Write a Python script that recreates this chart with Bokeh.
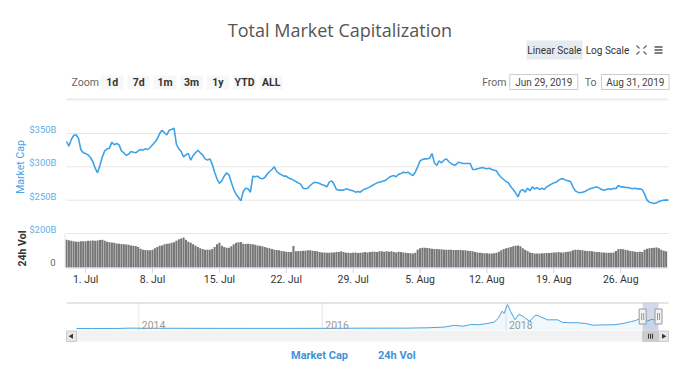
import pandas as pd
from bokeh.plotting import figure
from bokeh.models import Range1d, Legend, LegendItem
from bokeh.core.properties import value
from bokeh.embed import file_html
from bokeh.resources import INLINE
import math

# ---------------- data ----------------
TITLE = "Total Market Capitalization"
cap_start = "2019-06-29 00:00"
cap_step = "6h"
cap_values = [
    338, 331, 341, 347, 348, 343, 326, 321, 320, 318, 314, 308,
    298, 291, 302, 315, 324, 327, 328, 337, 333, 335, 333, 324,
    321, 317, 319, 323, 322, 321, 324, 326, 325, 327, 326, 329,
    333, 337, 342, 350, 355, 351, 348, 355, 356, 358, 334, 327,
    323, 315, 318, 320, 310, 317, 321, 325, 321, 318, 312, 310,
    312, 304, 292, 282, 275, 279, 286, 291, 288, 277, 266, 259,
    254, 249, 263, 268, 267, 262, 286, 285, 286, 283, 282, 284,
    289, 293, 296, 300, 293, 290, 288, 286, 286, 283, 282, 280,
    278, 276, 274, 268, 267, 268, 272, 275, 277, 276, 275, 273,
    272, 270, 277, 279, 274, 266, 265, 265, 265, 267, 266, 265,
    264, 262, 263, 262, 265, 267, 268, 270, 272, 274, 276, 277,
    278, 279, 281, 284, 286, 287, 285, 289, 290, 292, 291, 292,
    289, 287, 292, 300, 309, 311, 312, 312, 313, 320, 306, 302,
    309, 306, 310, 312, 308, 305, 303, 303, 307, 306, 305, 305,
    305, 305, 296, 296, 297, 298, 299, 298, 297, 298, 296, 295,
    294, 288, 284, 281, 278, 276, 270, 266, 261, 255, 264, 266,
    262, 268, 264, 270, 267, 269, 266, 268, 266, 270, 272, 274,
    276, 277, 280, 282, 282, 280, 279, 278, 270, 264, 262, 261,
    262, 263, 265, 267, 268, 269, 270, 268, 266, 265, 266, 267,
    266, 268, 267, 272, 270, 270, 269, 269, 268, 267, 268, 267,
    267, 266, 259, 250, 247, 246, 245, 246, 248, 249, 250, 250,
    250,
]
vol_values = [
    98, 96, 94, 93, 91, 91, 93, 93, 93, 94, 94, 95,
    94, 95, 97, 98, 94, 91, 89, 88, 87, 85, 84, 83,
    82, 81, 80, 78, 77, 76, 72, 66, 63, 62, 61, 61,
    63, 68, 72, 77, 78, 82, 84, 85, 87, 89, 94, 100,
    102, 106, 98, 91, 87, 82, 77, 72, 68, 65, 63, 63,
    63, 65, 72, 82, 87, 77, 72, 70, 70, 75, 82, 87,
    89, 90, 84, 83, 84, 83, 82, 80, 78, 77, 75, 72,
    70, 68, 65, 63, 62, 61, 58, 57, 56, 55, 55, 76,
    57, 58, 58, 59, 59, 61, 61, 59, 58, 57, 55, 53,
    53, 52, 52, 53, 53, 55, 55, 57, 55, 52, 52, 51,
    52, 53, 51, 52, 53, 55, 53, 55, 56, 56, 55, 57,
    57, 56, 57, 56, 57, 55, 53, 56, 55, 53, 52, 51,
    50, 49, 52, 63, 68, 70, 70, 69, 68, 66, 65, 65,
    64, 64, 63, 63, 63, 63, 62, 62, 62, 62, 61, 61,
    59, 58, 57, 55, 53, 52, 51, 50, 50, 49, 49, 50,
    52, 56, 61, 65, 68, 70, 72, 75, 77, 78, 75, 68,
    63, 58, 53, 51, 49, 49, 49, 50, 50, 51, 51, 52,
    53, 53, 55, 53, 53, 55, 56, 57, 61, 63, 63, 62,
    61, 59, 58, 58, 57, 56, 55, 55, 53, 53, 52, 52,
    52, 53, 58, 64, 65, 64, 63, 61, 58, 57, 56, 55,
    56, 55, 63, 66, 68, 69, 70, 71, 68, 63, 59, 57,
]
view_start = "2019-06-29"
view_end = "2019-08-31"
cap_ticks = [200, 250, 300, 350]
cap_tick_labels = ["$200B", "$250B", "$300B", "$350B"]
vol_ticks = [0]
vol_tick_labels = ["0"]
x_tick_dates = ["2019-07-01", "2019-07-08", "2019-07-15", "2019-07-22", "2019-07-29",
                "2019-08-05", "2019-08-12", "2019-08-19", "2019-08-26"]
x_tick_labels = ["1. Jul", "8. Jul", "15. Jul", "22. Jul", "29. Jul",
                 "5. Aug", "12. Aug", "19. Aug", "26. Aug"]
nav_dates = [
    "2013-04-28", "2013-07-01", "2013-10-01", "2013-12-01", "2014-01-01", "2014-03-01",
    "2014-06-01", "2014-09-01", "2014-12-01", "2015-03-01", "2015-06-01", "2015-09-01",
    "2015-12-01", "2016-03-01", "2016-06-01", "2016-09-01", "2016-12-01", "2017-01-01",
    "2017-03-01", "2017-05-01", "2017-06-10", "2017-07-15", "2017-08-15", "2017-09-15",
    "2017-10-15", "2017-11-15", "2017-12-01", "2017-12-17", "2017-12-24", "2018-01-07",
    "2018-01-20", "2018-02-06", "2018-02-20", "2018-03-05", "2018-03-20", "2018-04-06",
    "2018-04-25", "2018-05-05", "2018-05-25", "2018-06-15", "2018-07-25", "2018-08-15",
    "2018-09-15", "2018-10-15", "2018-11-15", "2018-12-15", "2019-01-15", "2019-02-15",
    "2019-03-15", "2019-04-15", "2019-05-15", "2019-05-30", "2019-06-26", "2019-07-10",
    "2019-07-17", "2019-08-06", "2019-08-31",
]
nav_values = [
    1.6, 1.0, 1.6, 13, 10, 8,
    8, 6, 5, 4, 4, 4,
    6, 7, 12, 12, 13, 18,
    25, 50, 110, 80, 140, 130,
    170, 220, 350, 600, 520, 830,
    580, 300, 480, 450, 350, 250,
    440, 460, 380, 300, 300, 210,
    200, 200, 170, 110, 125, 125,
    135, 180, 240, 270, 370, 330,
    260, 320, 250,
]
nav_year_ticks = ["2014-01-01", "2016-01-01", "2018-01-01"]
nav_year_labels = ["2014", "2016", "2018"]
zoom_buttons = ["1d", "7d", "1m", "3m", "1y", "YTD", "ALL"]
range_from = "Jun 29, 2019"
range_to = "Aug 31, 2019"
legend_labels = ["Market Cap", "24h Vol"]

# ---------------- helpers / styles ----------------
def ms(s):
    return pd.Timestamp(s).value / 1e6

FONT = value("Roboto")
TFONT = value("Open Sans")
BLUE = "#3fa2e6"
W, H = 690, 369
PX0, PY0 = 0, 0                     # page offset of the canvas (page renders with no margin)
PX1, PY1 = PX0 + W, PY0 + H

# layout in page pixels
MX0, MX1 = 66, 668                  # plot area left / right
CAP_Y200, CAP_PX = 233, 1.5         # $200B gridline row, $B per pixel
VOL_Y0, VOL_TOP, VOL_MAXV = 267, 233, 120
NAV_X0, NAV_X1 = 76, 658
NAV_TOP, NAV_BOT, SCR_BOT = 302, 330, 341
NAV_LO, NAV_HI = -69.0, 899.0

cap_x = [d.value / 1e6 for d in pd.date_range(cap_start, periods=len(cap_values), freq=cap_step)]
vol_x = [d.value / 1e6 for d in pd.date_range(cap_start, periods=len(vol_values), freq=cap_step)]
t0, t1 = ms(view_start), ms(view_end)
tpx = (t1 - t0) / (MX1 - MX0)
n0, n1 = ms(nav_dates[0]), ms(nav_dates[-1])
npx = (n1 - n0) / (NAV_X1 - NAV_X0)
vpx = VOL_MAXV / (VOL_Y0 - VOL_TOP)
nper = (NAV_HI - NAV_LO) / (NAV_BOT - NAV_TOP)

p = figure(width=W, height=H, title=None,
           x_range=Range1d(PX0, PX1), y_range=Range1d(PY1, PY0),
           x_axis_location=None, y_axis_location=None,
           min_border_left=0, min_border_right=0, min_border_top=0, min_border_bottom=0,
           output_backend="svg", toolbar_location=None)
p.outline_line_color = None
p.grid.visible = False
p.background_fill_color = "white"
p.border_fill_color = "white"
p.extra_x_ranges = {
    "t": Range1d(t0 - (MX0 - PX0) * tpx, t1 + (PX1 - MX1) * tpx),
    "n": Range1d(n0 - (NAV_X0 - PX0) * npx, n1 + (PX1 - NAV_X1) * npx),
}
p.extra_y_ranges = {
    "cap": Range1d(200 - (PY1 - CAP_Y200) * CAP_PX, 200 + (CAP_Y200 - PY0) * CAP_PX),
    "vol": Range1d(-(PY1 - VOL_Y0) * vpx, (VOL_Y0 - PY0) * vpx),
    "nav": Range1d(NAV_LO - (PY1 - NAV_BOT) * nper, NAV_HI + (NAV_TOP - PY0) * nper),
}

# ---------------- header ----------------
p.text(x=[339.5], y=[29], text=[TITLE], text_font=TFONT, text_font_size="18px",
       text_color="#555555", text_align="center", text_baseline="alphabetic")
p.quad(left=[526], right=[582], top=[40], bottom=[59], fill_color="#e6ebf2", line_color=None)
p.text(x=[554, 607], y=[49.5, 49.5], text=["Linear Scale", "Log Scale"], text_font=FONT,
       text_font_size="10px", text_color="#333333", text_align="center", text_baseline="middle")
p.segment(x0=[636, 646, 636, 646], y0=[45, 45, 54, 54], x1=[639, 643, 639, 643], y1=[48, 48, 51, 51],
          line_color="#666666", line_width=1.3)
p.segment(x0=[654, 654, 654], x1=[662, 662, 662], y0=[46.5, 49.5, 52.5], y1=[46.5, 49.5, 52.5],
          line_color="#555555", line_width=1.6)
p.text(x=[84.7], y=[81.5], text=["Zoom"], text_font=FONT, text_font_size="10.5px",
       text_color="#666666", text_align="center", text_baseline="middle")
bl = [100.3, 127, 153, 180, 206.3, 232.7, 259.3]
br = [123, 149.3, 176, 202.3, 228.7, 255.3, 282]
p.quad(left=bl, right=br, top=[75] * 7, bottom=[89] * 7, fill_color="#f7f7f7", line_color=None)
p.text(x=[(a + b) / 2 for a, b in zip(bl, br)], y=[81.5] * 7, text=zoom_buttons, text_font=FONT,
       text_font_size="10.5px", text_font_style="bold", text_color="#333333",
       text_align="center", text_baseline="middle")
p.text(x=[493.8, 590], y=[81.5, 81.5], text=["From", "To"], text_font=FONT, text_font_size="10.5px",
       text_color="#666666", text_align="center", text_baseline="middle")
p.quad(left=[509.3, 601], right=[577.3, 668.5], top=[74, 74], bottom=[89, 89],
       fill_color="white", line_color="#cccccc", line_width=1)
p.text(x=[543.3, 634.8], y=[81.5, 81.5], text=[range_from, range_to], text_font=FONT,
       text_font_size="10px", text_color="#444444", text_align="center", text_baseline="middle")
p.quad(left=[MX0], right=[MX1], top=[97.7], bottom=[100], fill_color="#eeeeee", line_color=None)

# ---------------- main pane (market cap) ----------------
p.segment(x0=[t0] * len(cap_ticks), x1=[t1] * len(cap_ticks), y0=cap_ticks, y1=cap_ticks,
          line_color="#e6e6e6", line_width=1, x_range_name="t", y_range_name="cap")
p.text(x=[t0] * len(cap_ticks), y=cap_ticks, text=cap_tick_labels, x_offset=-10, y_offset=-4,
       text_font=FONT, text_font_size="9.5px", text_color="#66afe9",
       text_align="right", text_baseline="middle", x_range_name="t", y_range_name="cap")
p.line(cap_x, cap_values, line_color=BLUE, line_width=1.6, x_range_name="t", y_range_name="cap")
p.text(x=[20], y=[166.5], text=["Market Cap"], angle=math.pi / 2, text_font=FONT,
       text_font_size="10.5px", text_color="#4aa3e3", text_align="center", text_baseline="middle")

# ---------------- volume pane ----------------
p.vbar(x=vol_x, top=vol_values, bottom=0, width=5.2 * 3600 * 1000, fill_color="#777777",
       line_color=None, x_range_name="t", y_range_name="vol")
p.segment(x0=[t0 - 1.5 * tpx], x1=[t0 - 1.5 * tpx], y0=[0], y1=[VOL_MAXV],
          line_color="#e6e6e6", line_width=1, x_range_name="t", y_range_name="vol")
p.text(x=[t0] * len(vol_ticks), y=vol_ticks, text=vol_tick_labels, x_offset=-11, y_offset=-5,
       text_font=FONT, text_font_size="9.5px", text_color="#666666",
       text_align="right", text_baseline="middle", x_range_name="t", y_range_name="vol")
p.text(x=[21.5], y=[248], text=["24h Vol"], angle=math.pi / 2, text_font=FONT,
       text_font_size="10.5px", text_font_style="bold", text_color="#333333",
       text_align="center", text_baseline="middle")

# x axis
xt = [ms(d) for d in x_tick_dates]
p.segment(x0=[t0], x1=[t1], y0=[VOL_Y0 + 0.5], y1=[VOL_Y0 + 0.5], line_color="#ccd6eb",
          line_width=1, x_range_name="t")
p.segment(x0=xt, x1=xt, y0=[VOL_Y0] * len(xt), y1=[VOL_Y0 + 5.5] * len(xt), line_color="#ccd6eb",
          line_width=1, x_range_name="t")
p.text(x=xt, y=[279] * len(xt), text=x_tick_labels, text_font=FONT, text_font_size="10.5px",
       text_color="#333333", text_align="center", text_baseline="middle", x_range_name="t")

# ---------------- navigator ----------------
nx = [ms(d) for d in nav_dates]
yt = [ms(d) for d in nav_year_ticks]
s0, s1 = t0, t1
xa, xb = n0 - (NAV_X0 - MX0) * npx, n1 + (MX1 - NAV_X1) * npx
p.segment(x0=yt, x1=yt, y0=[NAV_TOP] * len(yt), y1=[NAV_BOT] * len(yt), line_color="#e6e6e6",
          line_width=1, x_range_name="n")
p.varea(x=nx, y1=[NAV_LO] * len(nx), y2=nav_values, fill_color="#4aa3df", fill_alpha=0.08,
        x_range_name="n", y_range_name="nav")
p.line(nx, nav_values, line_color="#4aa3df", line_width=1, x_range_name="n", y_range_name="nav")
p.text(x=yt, y=[324.7] * len(yt), text=nav_year_labels, x_offset=3, text_font=FONT,
       text_font_size="10.5px", text_color="#999999", text_baseline="middle", x_range_name="n")
p.quad(left=[s0], right=[s1], top=[NAV_TOP], bottom=[NAV_BOT], fill_color="#6685c2", fill_alpha=0.3,
       line_color=None, x_range_name="n")
p.segment(x0=[xa], x1=[xb], y0=[NAV_TOP + 0.5], y1=[NAV_TOP + 0.5], line_color="#cccccc",
          line_width=1, x_range_name="n")
# scrollbar
p.quad(left=[xa], right=[xb], top=[NAV_BOT + 0.5], bottom=[SCR_BOT], fill_color="#f2f2f2",
       line_color=None, x_range_name="n")
p.quad(left=[xa, n1], right=[n0, xb], top=[NAV_BOT + 0.5] * 2, bottom=[SCR_BOT] * 2,
       fill_color="#e6e6e6", line_color="#cccccc", line_width=1, x_range_name="n")
scy = (NAV_BOT + 0.5 + SCR_BOT) / 2
p.scatter(x=[(xa + n0) / 2, (n1 + xb) / 2], y=[scy] * 2, marker="triangle",
          angle=[math.pi / 2, -math.pi / 2], size=5, fill_color="#333333", line_color=None,
          x_range_name="n")
p.quad(left=[s0], right=[s1], top=[NAV_BOT + 0.5], bottom=[SCR_BOT], fill_color="#cccccc",
       line_color="#cccccc", x_range_name="n")
mid = (s0 + s1) / 2
p.rect(x=[mid - 2 * npx, mid, mid + 2 * npx], y=[scy] * 3, width=1, height=5,
       width_units="screen", height_units="screen", fill_color="#333333", line_color=None,
       x_range_name="n")
hy = (NAV_TOP + NAV_BOT) / 2
p.rect(x=[s0, s1], y=[hy, hy], width=7, height=15, width_units="screen", height_units="screen",
       fill_color="#f2f2f2", line_color="#999999", line_width=1, x_range_name="n")
p.rect(x=[s0 - npx, s0 + npx, s1 - npx, s1 + npx], y=[hy] * 4, width=1, height=7,
       width_units="screen", height_units="screen", fill_color="#999999", line_color=None,
       x_range_name="n")

# ---------------- legend ----------------
r1 = p.line(x=[], y=[], line_color=BLUE, line_width=2)
r2 = p.scatter(x=[], y=[], marker="circle", size=8, fill_color="#666666", line_color="#666666")
leg = Legend(items=[LegendItem(label=legend_labels[0], renderers=[r1]),
                    LegendItem(label=legend_labels[1], renderers=[r2])],
             orientation="horizontal", location=(276 - PX0, PY1 - 362), glyph_width=10,
             glyph_height=10, label_height=10, label_standoff=5, spacing=15, padding=0, margin=0,
             border_line_color=None, background_fill_alpha=0,
             label_text_font="Roboto", label_text_font_size="11px", label_text_font_style="bold",
             label_text_color="#4391d6")
p.add_layout(leg)

open("out.html", "w").write(file_html(p, INLINE))
